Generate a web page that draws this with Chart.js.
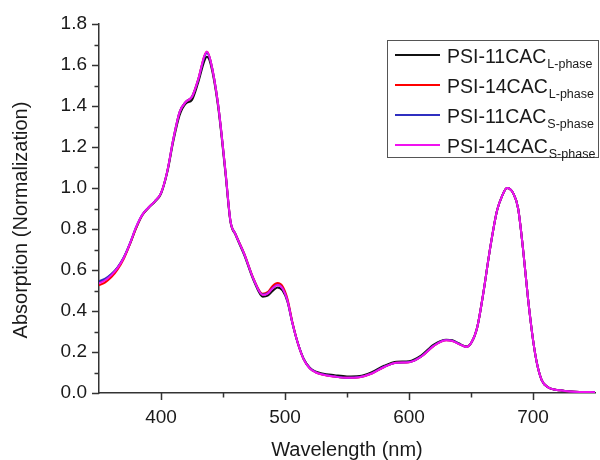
<!DOCTYPE html>
<html>
<head>
<meta charset="utf-8">
<script src="https://cdn.jsdelivr.net/npm/chart.js@4.4.1/dist/chart.umd.min.js"></script>
<style>
  html, body { margin: 0; padding: 0; background: #ffffff; }
  #wrap { width: 600px; height: 460px; }
</style>
</head>
<body>
<div id="wrap"><canvas id="c" width="600" height="460"></canvas></div>
<script>
// ---- data ----
const wavelengths = [350,355,360,365,370,375,380,385,390,395,400,405,410,415,420,425,430,435,437,440,446,452,456,460,467,475,482,486,490,494,498,502,506,510,515,520,525,530,540,550,560,570,580,590,600,610,620,630,635,640,646,650,655,660,665,671,675,679,684,688,692,696,700,703,707,712,722,730,740,750];

const psi11L = [0.540,0.553,0.578,0.612,0.660,0.728,0.805,0.868,0.903,0.933,0.972,1.075,1.230,1.355,1.412,1.430,1.515,1.620,
  1.640,1.605,
  1.400,1.070,0.835,0.772,0.675,0.545,0.470,0.475,0.498,0.515,0.500,0.445,0.340,0.250,
  0.168,0.124,0.104,0.095,
  0.087,0.081,0.083,0.102,0.133,0.152,0.155,0.184,0.236,0.260,
  0.257,0.243,0.227,0.243,0.320,0.490,0.690,0.890,0.960,1.000,0.975,0.900,0.700,0.460,0.260,0.150,0.063,0.028,0.013,0.007,0.005,0.004];

const psi14L = [0.525,0.540,0.565,0.603,0.655,0.727,0.806,0.868,0.905,0.935,0.975,1.080,1.240,1.370,1.420,1.445,1.530,1.645,
  1.665,1.620,
  1.410,1.080,0.840,0.777,0.682,0.553,0.484,0.492,0.522,0.536,0.520,0.458,0.345,0.250,
  0.165,0.120,0.100,0.090,
  0.080,0.074,0.077,0.095,0.127,0.147,0.150,0.178,0.230,0.257,
  0.254,0.240,0.225,0.243,0.320,0.490,0.690,0.890,0.960,1.000,0.975,0.900,0.700,0.460,0.260,0.150,0.063,0.028,0.013,0.007,0.005,0.004];

const psi11S = [0.545,0.558,0.580,0.613,0.662,0.731,0.810,0.870,0.905,0.935,0.975,1.080,1.240,1.370,1.420,1.445,1.528,1.640,
  1.658,1.618,
  1.410,1.080,0.840,0.776,0.680,0.550,0.480,0.487,0.512,0.528,0.510,0.450,0.340,0.250,
  0.166,0.121,0.101,0.091,
  0.081,0.075,0.078,0.096,0.128,0.148,0.151,0.179,0.231,0.258,
  0.255,0.241,0.225,0.243,0.320,0.490,0.690,0.890,0.960,1.000,0.975,0.900,0.700,0.460,0.260,0.150,0.063,0.028,0.013,0.007,0.005,0.004];

const psi14S = [0.535,0.550,0.575,0.610,0.660,0.730,0.810,0.870,0.905,0.935,0.975,1.080,1.240,1.370,1.420,1.445,1.530,1.645,
  1.665,1.620,
  1.410,1.080,0.840,0.775,0.680,0.550,0.478,0.485,0.510,0.527,0.510,0.450,0.340,0.250,
  0.165,0.120,0.100,0.090,
  0.080,0.074,0.077,0.095,0.127,0.147,0.150,0.178,0.230,0.257,
  0.254,0.240,0.225,0.243,0.320,0.490,0.690,0.890,0.960,1.000,0.975,0.900,0.700,0.460,0.260,0.150,0.063,0.028,0.013,0.007,0.005,0.004];

const seriesNames = ['PSI-11CAC', 'PSI-14CAC', 'PSI-11CAC', 'PSI-14CAC'];
const seriesSubs  = ['L-phase', 'L-phase', 'S-phase', 'S-phase'];
const seriesData  = [psi11L, psi14L, psi11S, psi14S];
const seriesColors = ['#111111', '#ff0000', '#2f2fc0', '#f012f0'];

const xTickLabels = [400, 500, 600, 700];
const yTickLabels = ['0.0','0.2','0.4','0.6','0.8','1.0','1.2','1.4','1.6','1.8'];

const xTitle = 'Wavelength (nm)';
const yTitle = 'Absorption (Normalization)';

// ---- chart ----
const FONT = "'Liberation Sans', Arial, sans-serif";
const AXIS_COLOR = '#333333';
const TEXT_COLOR = '#1a1a1a';

const datasets = seriesData.map((vals, i) => ({
  label: seriesNames[i] + ' ' + seriesSubs[i],
  data: wavelengths.map((w, k) => ({ x: w, y: vals[k] })),
  borderColor: seriesColors[i],
  backgroundColor: seriesColors[i],
  borderWidth: 2,
  pointRadius: 0,
  fill: false,
  cubicInterpolationMode: 'monotone',
  order: seriesData.length - i
}));

// minor/major tick marks drawn outward from the axes
const tickMarks = {
  id: 'tickMarks',
  afterDraw(chart) {
    const ctx = chart.ctx;
    const xs = chart.scales.x, ys = chart.scales.y;
    const area = chart.chartArea;
    ctx.save();
    ctx.strokeStyle = AXIS_COLOR;
    ctx.lineWidth = 1.5;
    ctx.beginPath();
    xs.ticks.forEach(t => {
      if (t.value <= xs.min || t.value >= xs.max) return;
      const px = Math.round(xs.getPixelForValue(t.value)) + 0.5;
      const major = xTickLabels.includes(t.value);
      ctx.moveTo(px, area.bottom);
      ctx.lineTo(px, area.bottom + (major ? 7 : 4.5));
    });
    ys.ticks.forEach(t => {
      const py = Math.round(ys.getPixelForValue(t.value)) + 0.5;
      const major = yTickLabels.includes(t.value.toFixed(1));
      ctx.moveTo(area.left, py);
      ctx.lineTo(area.left - (major ? 7 : 4.5), py);
    });
    ctx.stroke();
    ctx.restore();
  }
};

// y-axis title and legend with subscripts
const extras = {
  id: 'extras',
  afterDraw(chart) {
    const ctx = chart.ctx;
    ctx.save();
    ctx.fillStyle = TEXT_COLOR;
    ctx.font = '20px ' + FONT;
    ctx.textAlign = 'center';
    ctx.textBaseline = 'middle';
    ctx.translate(21.5, 220);
    ctx.rotate(-Math.PI / 2);
    ctx.fillText(yTitle, 0, 0);
    ctx.restore();

    ctx.save();
    const bx = 387.5, by = 40.5, bw = 211, bh = 117;
    ctx.fillStyle = '#ffffff';
    ctx.fillRect(bx, by, bw, bh);
    ctx.strokeStyle = '#555555';
    ctx.lineWidth = 1;
    ctx.strokeRect(bx, by, bw, bh);
    for (let i = 0; i < seriesNames.length; i++) {
      const cy = 55 + i * 30;
      ctx.strokeStyle = seriesColors[i];
      ctx.lineWidth = 2;
      ctx.beginPath();
      ctx.moveTo(395, cy);
      ctx.lineTo(440, cy);
      ctx.stroke();
      ctx.fillStyle = TEXT_COLOR;
      ctx.textAlign = 'left';
      ctx.textBaseline = 'alphabetic';
      ctx.font = '19.5px ' + FONT;
      ctx.fillText(seriesNames[i], 447, cy + 7.5);
      const w = ctx.measureText(seriesNames[i]).width;
      ctx.font = '12.5px ' + FONT;
      ctx.fillText(seriesSubs[i], 447 + w + 1, cy + 13.3);
    }
    ctx.restore();
  }
};

new Chart(document.getElementById('c'), {
  type: 'line',
  data: { datasets },
  options: {
    responsive: false,
    devicePixelRatio: 1,
    animation: false,
    events: [],
    layout: { padding: { left: 0, right: 0, top: 24, bottom: 0 } },
    plugins: {
      legend: { display: false },
      tooltip: { enabled: false },
      title: { display: false }
    },
    scales: {
      x: {
        type: 'linear',
        min: 350,
        max: 750,
        afterFit(scale) { scale.height = 67; },
        border: { display: true, color: AXIS_COLOR, width: 1.5 },
        grid: { display: true, drawOnChartArea: false, drawTicks: true, tickLength: 8, tickColor: 'rgba(0,0,0,0)' },
        ticks: {
          stepSize: 50,
          autoSkip: false,
          maxRotation: 0,
          padding: 5,
          color: TEXT_COLOR,
          font: { family: FONT, size: 19 },
          callback: (v) => xTickLabels.includes(v) ? String(v) : ''
        },
        title: {
          display: true,
          text: xTitle,
          color: TEXT_COLOR,
          font: { family: FONT, size: 20, lineHeight: 1 },
          padding: { top: 0, bottom: 0 }
        }
      },
      y: {
        type: 'linear',
        min: 0,
        max: 1.8,
        afterFit(scale) { scale.width = 99; },
        border: { display: true, color: AXIS_COLOR, width: 1.5 },
        grid: { display: true, drawOnChartArea: false, drawTicks: true, tickLength: 8, tickColor: 'rgba(0,0,0,0)' },
        ticks: {
          stepSize: 0.1,
          autoSkip: false,
          padding: 4,
          color: TEXT_COLOR,
          font: { family: FONT, size: 19 },
          callback: (v) => {
            const s = Number(v).toFixed(1);
            return yTickLabels.includes(s) ? s : '';
          }
        },
        title: { display: false }
      }
    }
  },
  plugins: [tickMarks, extras]
});
</script>
</body>
</html>
